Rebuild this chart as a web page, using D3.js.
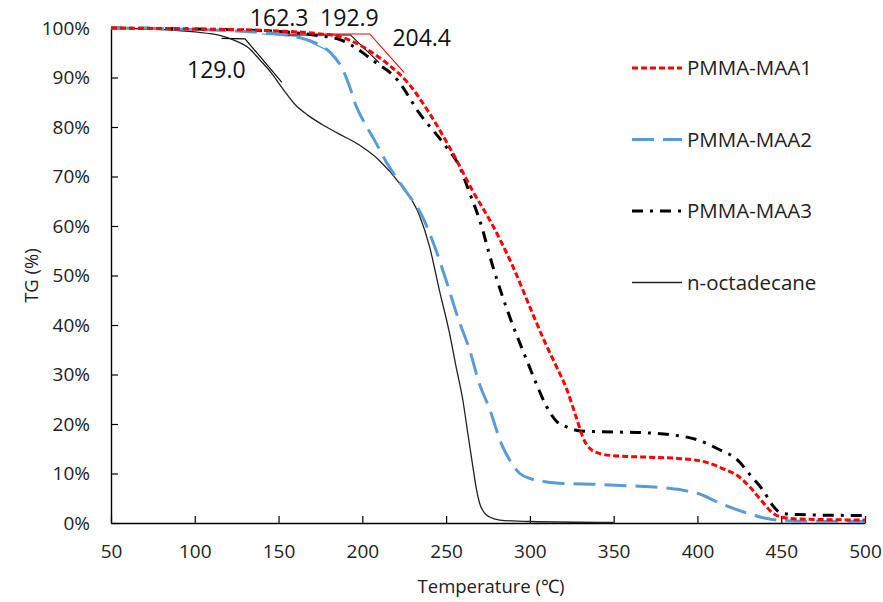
<!DOCTYPE html>
<html lang="en">
<head>
  <meta charset="UTF-8">
  <title>TG curves</title>
  <script src="https://d3js.org/d3.v7.min.js"></script>
  <style>
    * { margin: 0; padding: 0; }
    body { background: #fff; font-family: 'Open Sans', sans-serif; }
    svg { display: block; }
  </style>
</head>
<body>
  <div id="chart"></div>
  <script>
    // temperature (°C), TG (%)
    const maa1 = [[50,100],[100,99.8],[150,99.4],[175,98.8],[187,98.2],[196,97],[206,95],[216,92.5],[227,89],[240,82.8],
      [254,74.7],[266,67],[278,60],[290,51.7],[302,42],[309,36.5],[316,31.5],[322,27],[328,21],[332,17],[336,15],[342,14],
      [350,13.6],[370,13.3],[390,13],[405,12.3],[415,11],[425,9.3],[432,7],[438,4.6],[445,2],[450,1.2],[460,0.8],[500,0.6]];
    const maa2 = [[50,100],[100,99.7],[130,99.3],[150,98.8],[163,98],[172,97],[181,95],[188.5,91.5],[192.6,88],[196,84.5],
      [200.4,81.4],[207,77.5],[214.7,72.7],[225,67.5],[236,61.8],[243,56],[250.5,48.5],[257,41.5],[264,35],[270,28],[276,23],
      [283,16],[288,12.7],[294,10],[300,9],[310,8.3],[320,8],[340,7.8],[360,7.5],[380,7.1],[390,6.7],[400,6],[413.5,4],
      [429.5,2],[440,1],[450,0.5],[470,0.3],[500,0.3]];
    const maa3 = [[50,100],[100,99.8],[150,99.3],[173,98.5],[187,97.6],[196,96],[206,93.5],[221,89.5],[234,82.8],[250,76],
      [258,72],[264,66.7],[270,61.2],[278,51.7],[288,41.6],[298,33],[304,28],[310,23.5],[316,20.5],[322,19.4],[330,18.6],
      [350,18.4],[370,18.2],[385,17.8],[400,16.8],[412,15],[424,12.7],[432,9.5],[439,6.7],[445,3.5],[450,2],[460,1.7],[500,1.5]];
    const octadecane = [[50,100],[80,99.7],[100,99.2],[115,98.5],[123,97.6],[132,96],[139,93.5],[146,90.8],[153,87.5],
      [160,84.5],[167,82.5],[176,80.5],[185,78.8],[198,76.4],[210,73.3],[222,68.7],[234,62.2],[240,56],[246,47],[252,38.4],
      [256,31.5],[260,24.8],[263,18],[266,11.3],[268,7],[270,4],[273,2],[276,1.2],[282,0.6],[300,0.3],[350,0.1]];

    // onset construction lines (baseline + tangent)
    const onsetOcta = [[116,97.9],[130,97.8],[152,89]];
    const onsetMaa2 = [[140,98.8],[162.3,98.3],[182,95]];
    const onsetMaa3 = [[155,98.6],[192.9,98.6],[210,93]];
    const onsetMaa1 = [[152,98.8],[204.4,98.8],[225,91]];

    const onsetLabels = [
      {text: "162.3", t: 162.3, v: 100, dx: -20, dy: -2},
      {text: "192.9", t: 192.9, v: 100, dx: -1, dy: -2},
      {text: "204.4", t: 204.4, v: 96, dx: 52, dy: -2},
      {text: "129.0", t: 129.0, v: 90, dx: -27, dy: 0}
    ];

    const xTicks = [50,100,150,200,250,300,350,400,450,500];
    const yTicks = [0,10,20,30,40,50,60,70,80,90,100];

    const width = 883, height = 602;
    const margin = {top: 28, right: 18, bottom: 79, left: 111};

    const svg = d3.select("#chart").append("svg")
      .attr("width", width)
      .attr("height", height);

    const x = d3.scaleLinear().domain([50, 500]).range([margin.left, width - margin.right]);
    const y = d3.scaleLinear().domain([0, 100]).range([height - margin.bottom, margin.top]);

    // axes
    const xAxis = svg.append("g")
      .attr("transform", `translate(0,${height - margin.bottom})`)
      .call(d3.axisBottom(x).tickValues(xTicks).tickSizeInner(-7).tickSizeOuter(0).tickPadding(22));
    const yAxis = svg.append("g")
      .attr("transform", `translate(${margin.left},0)`)
      .call(d3.axisLeft(y).tickValues(yTicks).tickFormat(d => d + "%").tickSizeInner(-7).tickSizeOuter(0).tickPadding(21));

    [xAxis, yAxis].forEach(g => {
      g.select(".domain").attr("stroke", "#000").attr("stroke-width", 1.4);
      g.selectAll(".tick line").attr("stroke", "#000").attr("stroke-width", 1.2);
      g.selectAll(".tick text")
        .attr("font-family", "'Open Sans', sans-serif")
        .attr("font-size", 19)
        .attr("fill", "#222");
    });

    // axis titles
    svg.append("text")
      .attr("x", (margin.left + width - margin.right) / 2 + 3)
      .attr("y", 593)
      .attr("text-anchor", "middle")
      .attr("font-size", 18.5)
      .attr("fill", "#222")
      .text("Temperature (℃)");

    svg.append("text")
      .attr("transform", `translate(38,${(margin.top + height - margin.bottom) / 2}) rotate(-90)`)
      .attr("text-anchor", "middle")
      .attr("font-size", 18.5)
      .attr("fill", "#222")
      .text("TG (%)");

    const line = d3.line()
      .x(d => x(d[0]))
      .y(d => y(d[1]))
      .curve(d3.curveMonotoneX);
    const straight = d3.line().x(d => x(d[0])).y(d => y(d[1]));

    const series = [
      {name: "PMMA-MAA1", data: maa1, color: "#ff0000", width: 3, dash: "6,3"},
      {name: "PMMA-MAA2", data: maa2, color: "#5b9bd5", width: 3, dash: "22,9"},
      {name: "PMMA-MAA3", data: maa3, color: "#000", width: 3, dash: "11,7,3,7"},
      {name: "n-octadecane", data: octadecane, color: "#222", width: 1.3, dash: null}
    ];

    // onset lines under the curves
    [[onsetOcta, "#000"], [onsetMaa2, "#1ea0e6"], [onsetMaa3, "#000"], [onsetMaa1, "#ff0000"]].forEach(([d, c]) => {
      svg.append("path")
        .attr("d", straight(d))
        .attr("fill", "none")
        .attr("stroke", c)
        .attr("stroke-width", 1.1);
    });

    // draw back to front so the red dashes sit on top
    series.slice().reverse().forEach(s => {
      svg.append("path")
        .attr("d", line(s.data))
        .attr("fill", "none")
        .attr("stroke", s.color)
        .attr("stroke-width", s.width)
        .attr("stroke-dasharray", s.dash);
    });

    // onset labels
    svg.selectAll(".onset")
      .data(onsetLabels)
      .enter().append("text")
      .attr("class", "onset")
      .attr("x", d => x(d.t) + d.dx)
      .attr("y", d => y(d.v) + d.dy)
      .attr("text-anchor", "middle")
      .attr("font-size", 23)
      .attr("fill", "#111")
      .text(d => d.text);

    // legend
    const legend = svg.append("g").attr("transform", "translate(632,68)");
    series.forEach((s, i) => {
      const row = legend.append("g").attr("transform", `translate(0,${i * 71.5})`);
      row.append("line")
        .attr("x1", 0).attr("x2", 50)
        .attr("stroke", s.color)
        .attr("stroke-width", s.width)
        .attr("stroke-dasharray", s.dash);
      row.append("text")
        .attr("x", 55)
        .attr("dy", "0.35em")
        .attr("font-size", 20.5)
        .attr("fill", "#222")
        .text(s.name);
    });
  </script>
</body>
</html>
